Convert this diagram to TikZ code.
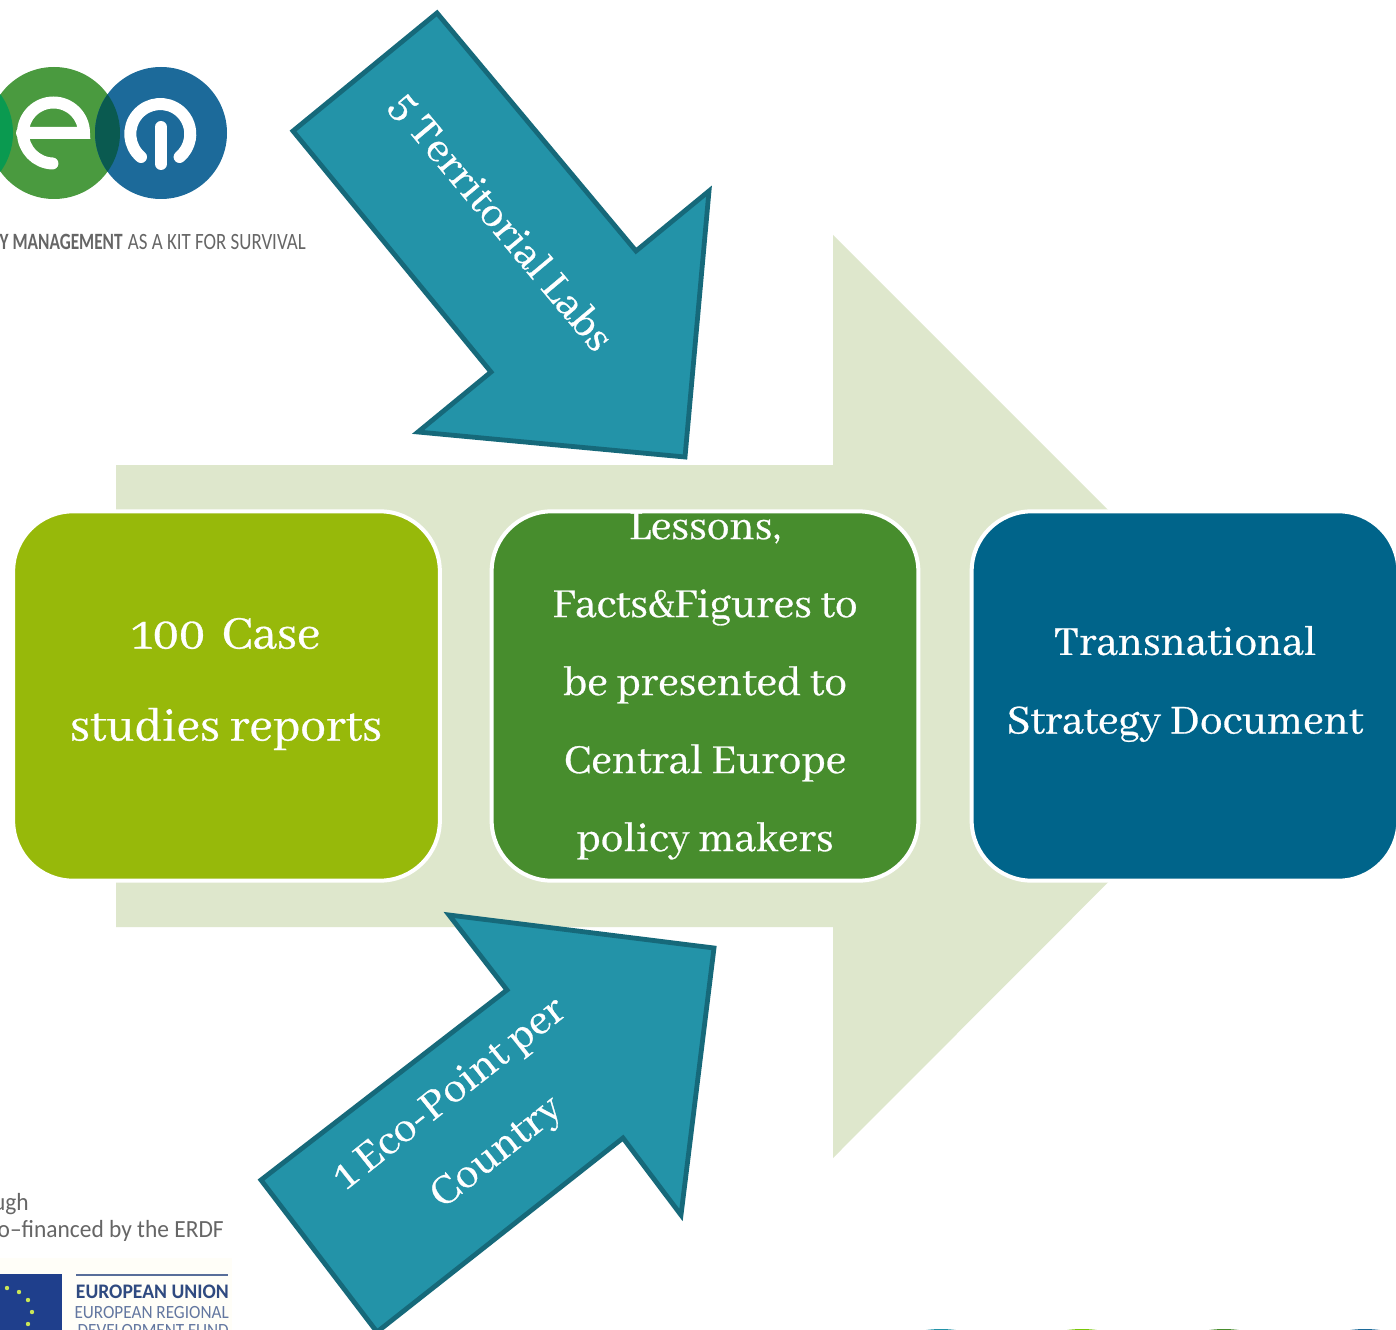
\documentclass[tikz,border=0pt]{standalone}
\usepackage{fontspec}
\setmainfont{Abhaya Libre}[FakeBold=0.6]
\newfontfamily\logofont{Carlito}
\definecolor{bigarrow}{HTML}{DEE7CC}
\definecolor{teal1}{HTML}{2393A8}
\definecolor{teal2}{HTML}{16697A}
\definecolor{boxa}{HTML}{97B90A}
\definecolor{boxb}{HTML}{478D2D}
\definecolor{boxc}{HTML}{00648A}
\definecolor{logogreen}{HTML}{4A9A3F}
\definecolor{logoblue}{HTML}{1C6A9A}
\definecolor{logolens}{HTML}{0A5A50}
\definecolor{logoleft}{HTML}{0A9A50}
\definecolor{greytxt}{HTML}{666666}
\definecolor{euflag}{HTML}{1F3F8C}
\definecolor{eutxt}{HTML}{2F4A80}
\definecolor{eucream}{HTML}{FFFEF8}
\tikzset{
 rbox/.style={draw=white,line width=3pt,rounded corners=45pt,minimum width=320pt,minimum height=277pt,inner sep=0pt},
 tealarrow/.style={fill=teal1,draw=teal2,line width=3.6pt,miter limit=10},
 boxtext/.style={text=white,align=center,inner sep=0pt},
 logostroke/.style={draw=white,line width=9pt,line cap=round},
 greylabel/.style={text=greytxt,inner sep=0pt},
}
\begin{document}
\begin{tikzpicture}[x=0.75pt,y=-0.75pt]
\useasboundingbox (0,0) rectangle (1396,1330);
\clip (0,0) rectangle (1396,1330);
\fill[white] (0,0) rectangle (1396,1330);
% big arrow
\fill[bigarrow] (116,465) -- (833,465) -- (833,235) -- (1294,696) -- (833,1158) -- (833,927) -- (116,927) -- cycle;
% boxes
\node[rbox,fill=boxa] (caseBox) at (226.5,696) {};
\node[rbox,fill=boxb] (lessonBox) at (705,696) {};
\node[rbox,fill=boxc] (strategyBox) at (1185,696) {};
\node[boxtext,font=\fontsize{38.5}{69}\selectfont] (caseText) at (226,684) {100\hspace{5pt} Case\\studies reports};
\node[boxtext,font=\fontsize{34}{58.5}\selectfont] (lessonText) at (705,686) {Lessons,\\Facts\&Figures to\\be presented to\\Central Europe\\policy makers};
\node[boxtext,font=\fontsize{34}{59}\selectfont] (strategyText) at (1185,684) {Transnational\\Strategy Document};
% teal arrows
\draw[tealarrow] (437,13) -- (636,251) -- (709,191) -- (685,457) -- (418,432) -- (491,372) -- (293,131) -- cycle;
\draw[tealarrow] (449,915) -- (714,948) -- (681,1215) -- (623,1138) -- (377,1332) -- (261,1180) -- (507,990) -- cycle;
\node[boxtext,rotate=-50,font=\fontsize{34.5}{56}\selectfont] (labsText) at (501,222) {5 Territorial Labs};
\node[boxtext,rotate=38.5,font=\fontsize{34.5}{56}\selectfont] (ecoText) at (474,1124) {1 Eco-Point per\\Country};
% logo
\fill[logogreen] (54,133) circle[radius=66];
\fill[logoblue] (161,133) circle[radius=66];
\begin{scope}
\clip (54,133) circle[radius=66];
\fill[logolens] (161,133) circle[radius=66];
\fill[logoleft] (-53,133) circle[radius=66];
\end{scope}
\draw[logostroke] (22,133) -- (84,133) arc[start angle=0,end angle=-268,radius=30.5];
\draw[logostroke] (141,157) arc[start angle=130,end angle=410,radius=30];
\draw[logostroke] (161,127) -- (161,164);
\node[greylabel,anchor=east,font=\logofont\fontsize{17.5}{18}\selectfont] (tagline) at (306,242) {\scalebox{.74}[1]{\textbf{Y MANAGEMENT}}\hspace{4pt}\scalebox{.81}[1]{AS A KIT FOR SURVIVAL}};
% bottom left
\fill[eucream] (-10,1258) rectangle (232,1340);
\node[greylabel,anchor=east,font=\logofont\fontsize{18.5}{18}\selectfont] (ughText) at (29,1204) {\scalebox{.95}[1]{ugh}};
\node[greylabel,anchor=east,font=\logofont\fontsize{18.5}{18}\selectfont] (erdfText) at (224,1231) {\scalebox{.95}[1]{o–financed by the ERDF}};
\fill[euflag] (-10,1274) rectangle (62,1340);
\foreach \p in {(7,1288),(19,1292),(28,1300),(32,1312),(28,1324)} \fill[yellow!70!green!70] \p circle[radius=2.2];
\draw[eutxt!80,line width=0.9pt] (76,1275) -- (228,1275);
\node[anchor=east,text=eutxt,inner sep=0pt,font=\logofont\bfseries\fontsize{15.5}{16}\selectfont] (euA) at (229,1292) {\scalebox{.95}[1]{EUROPEAN UNION}};
\node[anchor=east,text=eutxt!75,inner sep=0pt,font=\logofont\fontsize{14}{15}\selectfont] (euB) at (229,1313) {\scalebox{.92}[1]{EUROPEAN REGIONAL}};
\node[anchor=east,text=eutxt!75,inner sep=0pt,font=\logofont\fontsize{14}{15}\selectfont] (euC) at (229,1331) {\scalebox{.92}[1]{DEVELOPMENT FUND}};
% bottom slivers
\fill[teal1] (941,1439) circle[radius=110];
\fill[boxa!80!green] (1082,1439) circle[radius=110];
\fill[boxb] (1224,1439) circle[radius=110];
\fill[logoblue] (1365,1439) circle[radius=110];
\end{tikzpicture}
\end{document}
